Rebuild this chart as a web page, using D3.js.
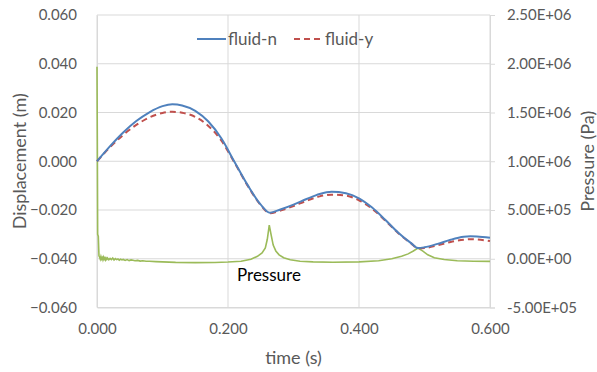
<!DOCTYPE html>
<html>
<head>
<meta charset="utf-8">
<script src="https://cdn.jsdelivr.net/npm/d3@7"></script>
<style>
  body { margin: 0; background: #fff; }
  text { font-family: Lato, "Open Sans", sans-serif; }
</style>
</head>
<body>
<div id="chart"></div>
<script>
// displacement series (m)
var dispTime = [0, 0.02, 0.04, 0.06, 0.08, 0.10, 0.115, 0.13, 0.15, 0.17, 0.19, 0.21, 0.23, 0.25, 0.264,
                0.28, 0.30, 0.32, 0.34, 0.358, 0.38, 0.40, 0.42, 0.44, 0.46, 0.48, 0.49, 0.50, 0.52, 0.54, 0.56, 0.57, 0.58, 0.60];
var fluidN = [0, 0.0062, 0.0118, 0.0165, 0.0201, 0.0226, 0.0234, 0.0229, 0.0207, 0.0163, 0.0093, -0.0003, -0.0098, -0.0178, -0.0211,
              -0.0198, -0.0178, -0.0155, -0.0134, -0.0125, -0.0131, -0.0152, -0.0190, -0.0240, -0.0293, -0.0337, -0.0356, -0.0353, -0.0339, -0.0322, -0.0310, -0.0308, -0.0309, -0.0314];
var fluidY = [0, 0.0058, 0.0108, 0.0149, 0.0180, 0.0198, 0.0203, 0.0199, 0.0182, 0.0145, 0.0084, -0.0006, -0.0100, -0.0180, -0.0213,
              -0.0202, -0.0184, -0.0162, -0.0144, -0.0137, -0.0141, -0.0160, -0.0195, -0.0243, -0.0295, -0.0338, -0.0357, -0.0356, -0.0345, -0.0331, -0.0322, -0.0320, -0.0321, -0.0327];

// pressure series (Pa)
var pressTime = [0, 0.0005, 0.001, 0.002, 0.003, 0.004, 0.005, 0.006, 0.007, 0.008, 0.009, 0.010, 0.011, 0.012, 0.013, 0.014,
                 0.015, 0.016, 0.018, 0.020, 0.022, 0.024, 0.026, 0.028, 0.030, 0.032, 0.034, 0.036, 0.038, 0.040, 0.043, 0.046,
                 0.049, 0.052, 0.055, 0.058, 0.062, 0.066, 0.070, 0.075, 0.080, 0.090, 0.100, 0.120, 0.150, 0.180,
                 0.200, 0.220, 0.235, 0.245, 0.252, 0.257, 0.260, 0.263, 0.266, 0.269, 0.273, 0.278, 0.285, 0.295, 0.310, 0.330,
                 0.360, 0.400, 0.430, 0.450, 0.465, 0.475, 0.483, 0.490, 0.497, 0.505, 0.515, 0.530, 0.550, 0.575, 0.600];
var pressure = [1970000, 1200000, 250000, 230000, 30000, 15000, -5000, 22000, -2000, 12000, -10000, 16000, -4000, 9000, -12000, 6000,
                -6000, 8000, -11000, 4000, -8000, 7000, -13000, 1000, -9000, -2000, -15000, -4000, -12000, -7000, -17000, -8000,
                -19000, -12000, -16000, -21000, -17000, -24000, -21000, -26000, -25000, -29000, -32000, -37000, -40000, -38000,
                -34000, -25000, -5000, 25000, 60000, 110000, 200000, 345000, 240000, 140000, 80000, 40000, 10000, -10000, -25000, -32000,
                -36000, -32000, -20000, 0, 25000, 50000, 80000, 110000, 80000, 40000, 10000, -8000, -20000, -25000, -27000];

var yTicks = [-0.06, -0.04, -0.02, 0, 0.02, 0.04, 0.06];
var pTicks = [-500000, 0, 500000, 1000000, 1500000, 2000000, 2500000];
var xTicks = [0, 0.2, 0.4, 0.6];

var W = 597, H = 372;
var margin = {top: 15, right: 107, bottom: 64.5, left: 97},
    width = W - margin.left - margin.right,
    height = H - margin.top - margin.bottom;

var svg = d3.select("#chart").append("svg")
  .attr("width", W)
  .attr("height", H);

var g = svg.append("g")
  .attr("transform", "translate(" + margin.left + "," + margin.top + ")");

var x = d3.scaleLinear().domain([0, 0.6]).range([0, width]);
var y = d3.scaleLinear().domain([-0.06, 0.06]).range([height, 0]);
var yp = d3.scaleLinear().domain([-500000, 2500000]).range([height, 0]);

var grey = "#595959", gridCol = "#d9d9d9";

// gridlines
g.selectAll(".hgrid").data(yTicks).enter().append("line")
  .attr("x1", 0).attr("x2", width)
  .attr("y1", function(d) { return y(d); }).attr("y2", function(d) { return y(d); })
  .attr("stroke", gridCol).attr("stroke-width", 1);
g.selectAll(".vgrid").data(xTicks).enter().append("line")
  .attr("x1", function(d) { return x(d); }).attr("x2", function(d) { return x(d); })
  .attr("y1", 0).attr("y2", height)
  .attr("stroke", gridCol).attr("stroke-width", 1);

// left axis
var yAxis = g.append("g")
  .call(d3.axisLeft(y).tickValues(yTicks).tickSize(0).tickPadding(20).tickFormat(d3.format(".3f")));
yAxis.select(".domain").attr("stroke", gridCol);
yAxis.selectAll("text").attr("fill", grey).style("font-size", "15px");

// bottom axis
var xAxis = g.append("g")
  .attr("transform", "translate(0," + height + ")")
  .call(d3.axisBottom(x).tickValues(xTicks).tickSize(0).tickPadding(16).tickFormat(d3.format(".3f")));
xAxis.select(".domain").attr("stroke", gridCol);
xAxis.selectAll("text").attr("fill", grey).style("font-size", "15px");

// right axis
var pAxis = g.append("g")
  .attr("transform", "translate(" + width + ",0)")
  .call(d3.axisRight(yp).tickValues(pTicks).tickSize(5).tickPadding(12)
    .tickFormat(function(d) {
      var s = d.toExponential(2).toUpperCase();
      return s.replace(/E([+-])(\d)$/, "E$10$2");
    }));
pAxis.select(".domain").attr("stroke", gridCol);
pAxis.selectAll("line").attr("stroke", gridCol);
pAxis.selectAll("text").attr("fill", grey).style("font-size", "15px");

// pressure line
g.append("path")
  .datum(pressTime.map(function(t, i) { return [t, pressure[i]]; }))
  .attr("fill", "none")
  .attr("stroke", "#9bbb59")
  .attr("stroke-width", 1.6)
  .attr("d", d3.line()
    .x(function(d) { return x(d[0]); })
    .y(function(d) { return yp(d[1]); }));

// displacement lines
var line = d3.line()
  .x(function(d) { return x(d[0]); })
  .y(function(d) { return y(d[1]); })
  .curve(d3.curveMonotoneX);

g.append("path")
  .datum(dispTime.map(function(t, i) { return [t, fluidY[i]]; }))
  .attr("fill", "none")
  .attr("stroke", "#c0504d")
  .attr("stroke-width", 2)
  .attr("stroke-dasharray", "6,4")
  .attr("d", line);

g.append("path")
  .datum(dispTime.map(function(t, i) { return [t, fluidN[i]]; }))
  .attr("fill", "none")
  .attr("stroke", "#4f81bd")
  .attr("stroke-width", 2)
  .attr("d", line);

// legend
var leg = svg.append("g");
leg.append("line").attr("x1", 197).attr("x2", 226).attr("y1", 39).attr("y2", 39)
  .attr("stroke", "#4f81bd").attr("stroke-width", 2);
leg.append("text").attr("x", 228).attr("y", 45).text("fluid-n")
  .attr("fill", grey).style("font-size", "17px");
leg.append("line").attr("x1", 294).attr("x2", 324).attr("y1", 39).attr("y2", 39)
  .attr("stroke", "#c0504d").attr("stroke-width", 2).attr("stroke-dasharray", "6,4");
leg.append("text").attr("x", 325).attr("y", 45).text("fluid-y")
  .attr("fill", grey).style("font-size", "17px");

// in-plot label
svg.append("text").attr("x", 237).attr("y", 281).text("Pressure")
  .attr("fill", "#000").style("font-size", "17px");

// axis titles
svg.append("text")
  .attr("transform", "translate(" + 19 + "," + (margin.top + height / 2) + ") rotate(-90)")
  .attr("text-anchor", "middle")
  .attr("dominant-baseline", "central")
  .attr("fill", grey).style("font-size", "18px")
  .text("Displacement (m)");
svg.append("text")
  .attr("transform", "translate(" + 587 + "," + (margin.top + height / 2) + ") rotate(-90)")
  .attr("text-anchor", "middle")
  .attr("dominant-baseline", "central")
  .attr("fill", grey).style("font-size", "18px")
  .text("Pressure (Pa)");
svg.append("text")
  .attr("x", margin.left + width / 2).attr("y", 364)
  .attr("text-anchor", "middle")
  .attr("fill", grey).style("font-size", "18px")
  .text("time (s)");
</script>
</body>
</html>
